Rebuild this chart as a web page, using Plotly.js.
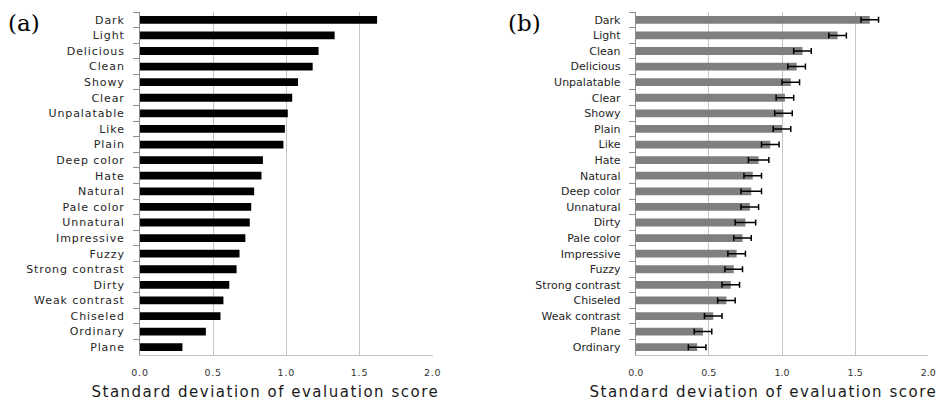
<!DOCTYPE html>
<html>
<head>
<meta charset="utf-8">
<script src="https://cdn.plot.ly/plotly-3.0.1.min.js"></script>
<style>
  html, body { margin: 0; padding: 0; background: #fff; }
  #chart { width: 939px; height: 403px; }
  .ytick text { letter-spacing: 0.9px; }
  .xtick text { letter-spacing: 0.8px; }
</style>
</head>
<body>
<div id="chart"></div>
<script>
// Panel (a)
var categoriesA = ["Dark", "Light", "Delicious", "Clean", "Showy", "Clear", "Unpalatable", "Like", "Plain",
  "Deep color", "Hate", "Natural", "Pale color", "Unnatural", "Impressive", "Fuzzy", "Strong contrast",
  "Dirty", "Weak contrast", "Chiseled", "Ordinary", "Plane"];
var valuesA = [1.62, 1.33, 1.22, 1.18, 1.08, 1.04, 1.01, 0.99, 0.98,
  0.84, 0.83, 0.78, 0.76, 0.75, 0.72, 0.68, 0.66,
  0.61, 0.57, 0.55, 0.45, 0.29];

// Panel (b)
var categoriesB = ["Dark", "Light", "Clean", "Delicious", "Unpalatable", "Clear", "Showy", "Plain", "Like",
  "Hate", "Natural", "Deep color", "Unnatural", "Dirty", "Pale color", "Impressive", "Fuzzy",
  "Strong contrast", "Chiseled", "Weak contrast", "Plane", "Ordinary"];
var valuesB = [1.60, 1.38, 1.14, 1.10, 1.06, 1.02, 1.01, 1.00, 0.92,
  0.84, 0.80, 0.79, 0.78, 0.75, 0.73, 0.69, 0.67,
  0.65, 0.62, 0.53, 0.46, 0.42];
var errorsB = [0.06, 0.06, 0.06, 0.06, 0.06, 0.06, 0.06, 0.06, 0.06,
  0.07, 0.06, 0.07, 0.06, 0.07, 0.06, 0.06, 0.06,
  0.06, 0.06, 0.06, 0.06, 0.06];

var tickVals = [0, 0.5, 1.0, 1.5, 2.0];
var tickText = ["0.0", "0.5", "1.0", "1.5", "2.0"];
var xTitle = "Standard deviation of evaluation score";
var panelLabels = ["(a)", "(b)"];

var traceA = {
  type: "bar", orientation: "h",
  x: valuesA, y: categoriesA,
  xaxis: "x", yaxis: "y",
  marker: { color: "#000000" },
  width: 0.5,
  hoverinfo: "x+y"
};
var traceB = {
  type: "bar", orientation: "h",
  x: valuesB, y: categoriesB,
  xaxis: "x2", yaxis: "y2",
  marker: { color: "#7f7f7f" },
  width: 0.5,
  error_x: { type: "data", array: errorsB, visible: true, color: "#000000", thickness: 1.5, width: 3 },
  hoverinfo: "x+y"
};

function xAxis(domain, anchor) {
  return {
    domain: domain, anchor: anchor,
    range: [0, 2.0], tickvals: tickVals, ticktext: tickText,
    showgrid: true, gridcolor: "#c4c4c4", gridwidth: 1,
    zeroline: false, showline: true, linecolor: "#c4c4c4", linewidth: 1,
    ticks: "", ticklabelstandoff: 9,
    tickfont: { family: "DejaVu Sans", size: 9.5, color: "#333333" },
    fixedrange: true
  };
}
function yAxis(domain, anchor, cats) {
  return {
    domain: domain, anchor: anchor,
    type: "category", categoryorder: "array", categoryarray: cats,
    range: [21.5, -0.5],
    showgrid: false, zeroline: false,
    showline: true, linecolor: "#8c8c8c", linewidth: 1,
    ticks: "outside", tickson: "boundaries", ticklen: 6, tickcolor: "#8c8c8c", tickwidth: 1,
    ticklabelstandoff: 12,
    tickfont: { family: "DejaVu Sans", size: 11, color: "#262626" },
    fixedrange: true
  };
}

var titleFont = { family: "DejaVu Sans", size: 15, color: "#1a1a1a" };

var layout = {
  width: 939, height: 403,
  margin: { l: 0, r: 0, t: 0, b: 0 },
  paper_bgcolor: "#ffffff", plot_bgcolor: "#ffffff",
  showlegend: false,
  bargap: 0.5,
  xaxis: xAxis([0.1491, 0.4608], "y"),
  yaxis: yAxis([0.1191, 0.9702], "x", categoriesA),
  xaxis2: xAxis([0.6770, 0.9886], "y2"),
  yaxis2: yAxis([0.1191, 0.9702], "x2", categoriesB),
  annotations: [
    { text: panelLabels[0], xref: "paper", yref: "paper", x: 24 / 939, y: 1 - 23 / 403,
      xanchor: "center", yanchor: "middle", showarrow: false,
      font: { family: "DejaVu Serif", size: 23, color: "#000000" } },
    { text: panelLabels[1], xref: "paper", yref: "paper", x: 524 / 939, y: 1 - 23 / 403,
      xanchor: "center", yanchor: "middle", showarrow: false,
      font: { family: "DejaVu Serif", size: 23, color: "#000000" } },
    { text: xTitle, xref: "paper", yref: "paper", x: 265 / 939, y: 1 - 392 / 403,
      xanchor: "center", yanchor: "middle", showarrow: false, font: titleFont },
    { text: xTitle, xref: "paper", yref: "paper", x: 763 / 939, y: 1 - 392 / 403,
      xanchor: "center", yanchor: "middle", showarrow: false, font: titleFont }
  ]
};

Plotly.newPlot("chart", [traceA, traceB], layout, { staticPlot: true, displayModeBar: false }).then(function () {
  var anns = document.querySelectorAll(".annotation");
  anns.forEach(function (a) {
    var t = a.querySelector("text");
    if (t && t.textContent === xTitle) { t.style.letterSpacing = "1.5px"; }
  });
});
</script>
</body>
</html>
